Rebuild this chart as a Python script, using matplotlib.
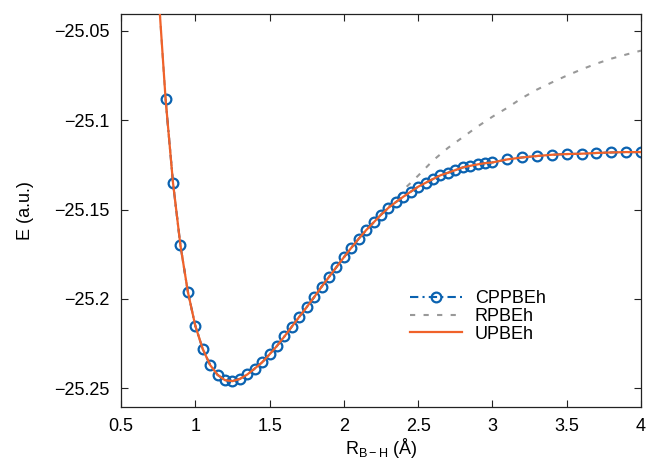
import matplotlib
matplotlib.use("Agg")
import matplotlib.pyplot as plt
from matplotlib.ticker import FixedLocator

plt.rcParams['font.family'] = ['Liberation Sans', 'DejaVu Sans']
plt.rcParams['mathtext.fontset'] = 'custom'
plt.rcParams['mathtext.rm'] = 'Liberation Sans'
plt.rcParams['mathtext.it'] = 'Liberation Sans:italic'

# CPPBEh / UPBEh data (bond length in Å, energy in a.u.)
r_cp = [0.80, 0.85, 0.90, 0.95, 1.00, 1.05, 1.10, 1.15, 1.20, 1.25, 1.30, 1.35,
        1.40, 1.45, 1.50, 1.55, 1.60, 1.65, 1.70, 1.75, 1.80, 1.85, 1.90, 1.95,
        2.00, 2.05, 2.10, 2.15, 2.20, 2.25, 2.30, 2.35, 2.40, 2.45, 2.50, 2.55,
        2.60, 2.65, 2.70, 2.75, 2.80, 2.85, 2.90, 2.95, 3.00,
        3.1, 3.2, 3.3, 3.4, 3.5, 3.6, 3.7, 3.8, 3.9, 4.0]
e_cp = [-25.088, -25.135, -25.170, -25.196, -25.215, -25.228, -25.237, -25.2425,
        -25.2455, -25.246, -25.2448, -25.2423, -25.239, -25.2355, -25.231, -25.2263,
        -25.221, -25.2155, -25.210, -25.2046, -25.199, -25.1932, -25.1877, -25.1822,
        -25.1767, -25.1714, -25.1663, -25.1615, -25.1572, -25.1529, -25.149, -25.1458,
        -25.1428, -25.140, -25.1372, -25.135, -25.1329, -25.1308, -25.1294, -25.1279,
        -25.1264, -25.1255, -25.1247, -25.124, -25.1236,
        -25.1219, -25.1208, -25.120, -25.1193, -25.1189, -25.1187, -25.1183, -25.118,
        -25.1178, -25.1178]

r_u = [0.70, 0.75] + r_cp
e_u = [-24.955, -25.026] + e_cp

# RPBEh (restricted) data
r_r = [0.70, 0.75, 0.80, 0.85, 0.90, 0.95, 1.00, 1.05, 1.10, 1.15, 1.20, 1.25,
       1.30, 1.35, 1.40, 1.45, 1.50, 1.55, 1.60, 1.65, 1.70, 1.75, 1.80, 1.85,
       1.90, 1.95, 2.00, 2.05, 2.10, 2.15, 2.20, 2.25, 2.30, 2.35, 2.40, 2.50,
       2.60, 2.70, 2.80, 2.90, 3.00, 3.10, 3.20, 3.30, 3.40, 3.50, 3.60, 3.70,
       3.80, 3.90, 4.00]
e_r = [-24.955, -25.026, -25.088, -25.135, -25.170, -25.196, -25.215, -25.228,
       -25.237, -25.2425, -25.2455, -25.246, -25.2448, -25.2423, -25.239, -25.2355,
       -25.231, -25.2263, -25.221, -25.2155, -25.210, -25.2046, -25.199, -25.1932,
       -25.1877, -25.1822, -25.1767, -25.1714, -25.1663, -25.1615, -25.1572, -25.1527,
       -25.1485, -25.1445, -25.139, -25.131, -25.1225, -25.1155, -25.1095, -25.1035,
       -25.098, -25.093, -25.0875, -25.0828, -25.0788, -25.075, -25.0715, -25.0683,
       -25.0655, -25.0632, -25.061]

xticks = [0.5, 1, 1.5, 2, 2.5, 3, 3.5, 4]
xticklabels = ['0.5', '1', '1.5', '2', '2.5', '3', '3.5', '4']
yticks = [-25.25, -25.2, -25.15, -25.1, -25.05]
yticklabels = ['\u221225.25', '\u221225.2', '\u221225.15', '\u221225.1', '\u221225.05']

blue = '#0A62B0'
orange = '#F0622A'
gray = '#999999'

fig = plt.figure(figsize=(6.52, 4.62), dpi=100)
ax = fig.add_axes([121/652, 1-407/462, 520/652, 393/462])

ax.plot(r_cp, e_cp, linestyle='-.', dashes=(4, 2, 1, 2), color=blue, lw=1.5,
        marker='o', markersize=7, markerfacecolor='none', markeredgewidth=1.6,
        label='CPPBEh', zorder=2)
ax.plot(r_r, e_r, color=gray, lw=1.5, dashes=(2.5, 4), label='RPBEh', zorder=1)
ax.plot(r_u, e_u, color=orange, lw=1.6, label='UPBEh', zorder=3)

ax.set_xlim(0.5, 4)
ax.set_ylim(-25.2605, -25.0405)
ax.xaxis.set_major_locator(FixedLocator(xticks))
ax.set_xticklabels(xticklabels)
ax.yaxis.set_major_locator(FixedLocator(yticks))
ax.set_yticklabels(yticklabels)

ax.tick_params(direction='in', top=True, right=True, length=5, width=0.8,
               labelsize=13, colors='#222222', labelcolor='black', pad=8)
for s in ax.spines.values():
    s.set_color('#222222')
    s.set_linewidth(0.9)

ax.set_xlabel('R$_{\\mathrm{B\u2212H}}$ (Å)', fontsize=13, labelpad=1)
ax.set_ylabel('E (a.u.)', fontsize=13, labelpad=15)

leg = ax.legend(loc='upper left', bbox_to_anchor=((410-121)/520, (407-290)/393),
                frameon=False, fontsize=13, handlelength=2.9, handletextpad=0.7,
                labelspacing=0.05, borderpad=0, borderaxespad=0)

fig.savefig('out.png', dpi=100)
